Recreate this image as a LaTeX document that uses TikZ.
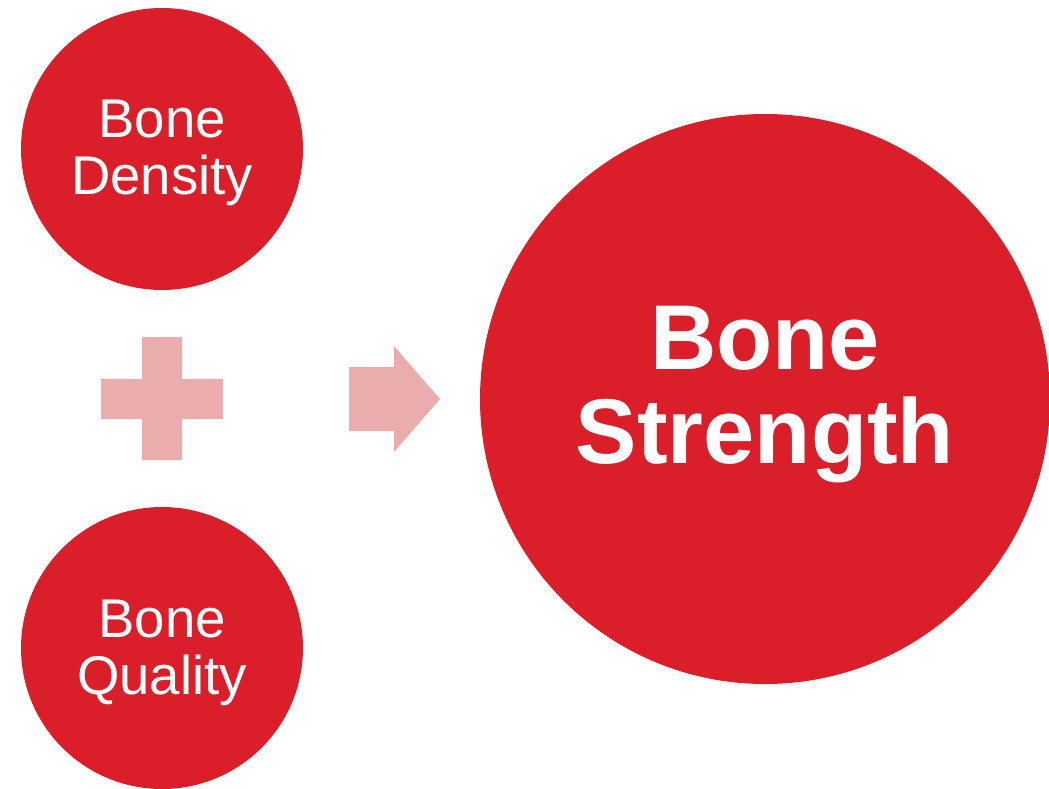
\documentclass[tikz,border=0pt]{standalone}
\usepackage{fontspec}
\setmainfont{Liberation Sans}
\definecolor{bonered}{HTML}{DA1F2A}
\definecolor{bonepink}{HTML}{EBACAD}
\tikzset{
  disc/.style={circle, fill=bonered, draw=none, inner sep=0pt},
  smalltext/.style={text=white, anchor=base, inner sep=0pt, font=\fontsize{54.5}{58}\selectfont},
  bigtext/.style={text=white, anchor=base, inner sep=0pt, font=\fontsize{92}{96}\selectfont\bfseries},
  sign/.style={fill=bonepink, draw=none}
}
\begin{document}
\begin{tikzpicture}[x=1pt,y=-1pt]
\useasboundingbox (0,0) rectangle (1049,788);
% circles
\node[disc, minimum size=282pt] (density) at (162,149) {};
\node[disc, minimum size=282pt] (quality) at (162,648) {};
\node[disc, minimum size=570pt] (strength) at (765,399) {};
% texts
\node[smalltext] (t1a) at (162,137) {Bone};
\node[smalltext] (t1b) at (162,194) {Density};
\node[smalltext] (t2a) at (162,637) {Bone};
\node[smalltext] (t2b) at (162,694) {Quality};
\node[bigtext] (t3a) at (765,369) {Bone};
\node[bigtext] (t3b) at (765,463) {Strength};
% plus sign
\fill[sign] (142,337) -- (182,337) -- (182,379) -- (223,379) -- (223,419) -- (182,419)
  -- (182,460) -- (142,460) -- (142,419) -- (101,419) -- (101,379) -- (142,379) -- cycle;
% arrow
\fill[sign] (349,367) -- (394,367) -- (394,346) -- (440,399) -- (394,452) -- (394,431) -- (349,431) -- cycle;
\end{tikzpicture}
\end{document}
